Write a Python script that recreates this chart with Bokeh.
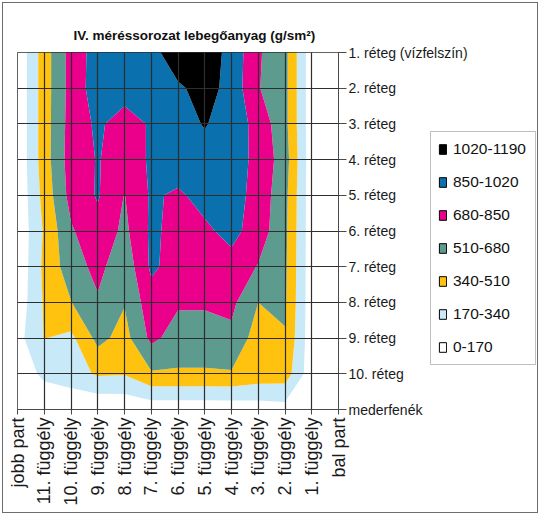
import numpy as np
from bokeh.plotting import figure
from bokeh.layouts import column
from bokeh.models import Range1d, FixedTicker, Legend, LegendItem
from bokeh.embed import file_html
from bokeh.resources import INLINE

# Sampling verticals (right bank -> left bank) and depth layers (surface -> bed)
verticals = ["jobb part", "11. függély", "10. függély", "9. függély", "8. függély",
             "7. függély", "6. függély", "5. függély", "4. függély", "3. függély",
             "2. függély", "1. függély", "bal part"]
layers = ["1. réteg (vízfelszín)", "2. réteg", "3. réteg", "4. réteg", "5. réteg",
          "6. réteg", "7. réteg", "8. réteg", "9. réteg", "10. réteg", "mederfenék"]

# Suspended sediment (g/sm2) per layer, one value per vertical
reteg_1 = [30, 430, 740, 930, 930, 950, 1150, 1110, 970, 700, 560, 60, 10]
reteg_2 = [30, 430, 740, 940, 930, 980, 990, 1090, 960, 690, 560, 60, 10]
reteg_3 = [30, 430, 750, 880, 770, 870, 960, 1030, 950, 790, 560, 60, 10]
reteg_4 = [30, 430, 760, 860, 770, 870, 940, 960, 920, 810, 590, 60, 10]
reteg_5 = [30, 400, 740, 865, 675, 872, 826, 905, 920, 790, 560, 60, 10]
reteg_6 = [30, 360, 660, 800, 640, 880, 800, 820, 900, 770, 550, 60, 10]
reteg_7 = [30, 380, 600, 730, 565, 880, 780, 810, 790, 670, 540, 60, 10]
reteg_8 = [60, 360, 505, 660, 520, 780, 700, 700, 720, 510, 530, 60, 10]
reteg_9 = [110, 345, 300, 560, 450, 720, 610, 610, 640, 430, 500, 60, 10]
reteg_10 = [60, 210, 270, 360, 350, 490, 490, 490, 495, 440, 430, 60, 10]
mederfenek = [20, 20, 20, 20, 30, 60, 60, 60, 60, 80, 100, 40, 10]

levels = [0, 170, 340, 510, 680, 850, 1020, 1190]
bands = ["0-170", "170-340", "340-510", "510-680", "680-850", "850-1020", "1020-1190"]
colors = ["#FFFFFF", "#C8E9F8", "#FFC20E", "#5E9B8F", "#EA008B", "#0B70AE", "#000000"]

z = np.array([reteg_1, reteg_2, reteg_3, reteg_4, reteg_5, reteg_6, reteg_7,
              reteg_8, reteg_9, reteg_10, mederfenek], dtype=float)
xs = np.arange(len(verticals), dtype=float)
ys = np.arange(len(layers), dtype=float)

# main chart: canvas sits 2px inside the page with a 1px grey frame around it
p = figure(width=536, height=511, output_backend="svg", toolbar_location=None,
           x_range=Range1d(0, len(verticals) - 1), y_range=Range1d(len(layers) - 1, 0),
           y_axis_location="right",
           min_border_left=14, min_border_right=201, min_border_top=49, min_border_bottom=105)
p.styles = {"border": "1px solid #6e6e6e", "margin": "2px"}

p.contour(xs, ys, z, levels, fill_color=colors)

# category grid on top of the filled bands
grid_color = "#2e2e2e"
p.xgrid.ticker = FixedTicker(ticks=list(range(len(verticals))))
p.ygrid.ticker = FixedTicker(ticks=list(range(len(layers))))
p.grid.grid_line_color = grid_color
p.grid.grid_line_width = 1.2
p.grid.level = "annotation"
p.outline_line_color = grid_color

p.xaxis.ticker = FixedTicker(ticks=list(range(len(verticals))))
p.xaxis.major_label_overrides = {i: v for i, v in enumerate(verticals)}
p.xaxis.major_label_orientation = np.pi / 2
p.yaxis.ticker = FixedTicker(ticks=list(range(len(layers))))
p.yaxis.major_label_overrides = {i: v for i, v in enumerate(layers)}

p.axis.minor_tick_line_color = None
p.axis.major_tick_in = 0
p.xaxis.major_tick_out = 5
p.yaxis.major_tick_out = 8
p.axis.axis_line_color = "#4a4a4a"
p.axis.major_tick_line_color = "#4a4a4a"
p.axis.major_label_text_font = "Liberation Sans"
p.axis.major_label_text_color = "#1a1a1a"
p.xaxis.major_label_text_font_size = "18px"
p.yaxis.major_label_text_font_size = "14px"
p.xaxis.major_label_standoff = 3
p.yaxis.major_label_standoff = 2

p.title.text = "IV. méréssorozat lebegőanyag (g/sm²)"
p.title.text_font = "Liberation Sans"
p.title.text_font_style = "bold"
p.title.text_font_size = "13.5px"
p.title.align = "left"
p.title.offset = 56
p.title.standoff = 19
p.title.text_color = "#111111"

# band legend, highest band first, floated over the right margin of the chart
lp = figure(width=106, height=237, output_backend="svg", toolbar_location=None,
            x_range=Range1d(0, 1), y_range=Range1d(0, 1),
            x_axis_location=None, y_axis_location=None, min_border=0)
lp.grid.visible = False
lp.outline_line_color = None
lp.background_fill_color = None
lp.border_fill_color = None
lp.styles = {"position": "absolute", "left": "430px", "top": "131px", "z-index": "5"}

items = []
for band, color in reversed(list(zip(bands, colors))):
    # swatch-only renderer: a single undefined box, nothing is drawn in the frame
    r = lp.quad(left=[np.nan], right=[np.nan], top=[np.nan], bottom=[np.nan],
                fill_color=color, line_color="black", line_width=1)
    items.append(LegendItem(label=band, renderers=[r]))
legend = Legend(items=items, location="top_left")
legend.border_line_color = "#808080"
legend.border_line_width = 1
legend.background_fill_color = "white"
legend.background_fill_alpha = 1
legend.label_text_font = "Liberation Sans"
legend.label_text_font_size = "15.5px"
legend.label_text_color = "#111111"
legend.glyph_width = 9
legend.glyph_height = 12
legend.label_height = 20
legend.label_width = 75
legend.spacing = 13
legend.padding = 7
legend.margin = 0
legend.label_standoff = 6
lp.add_layout(legend)

root = column(p, lp)
open("out.html", "w").write(file_html(root, INLINE))
